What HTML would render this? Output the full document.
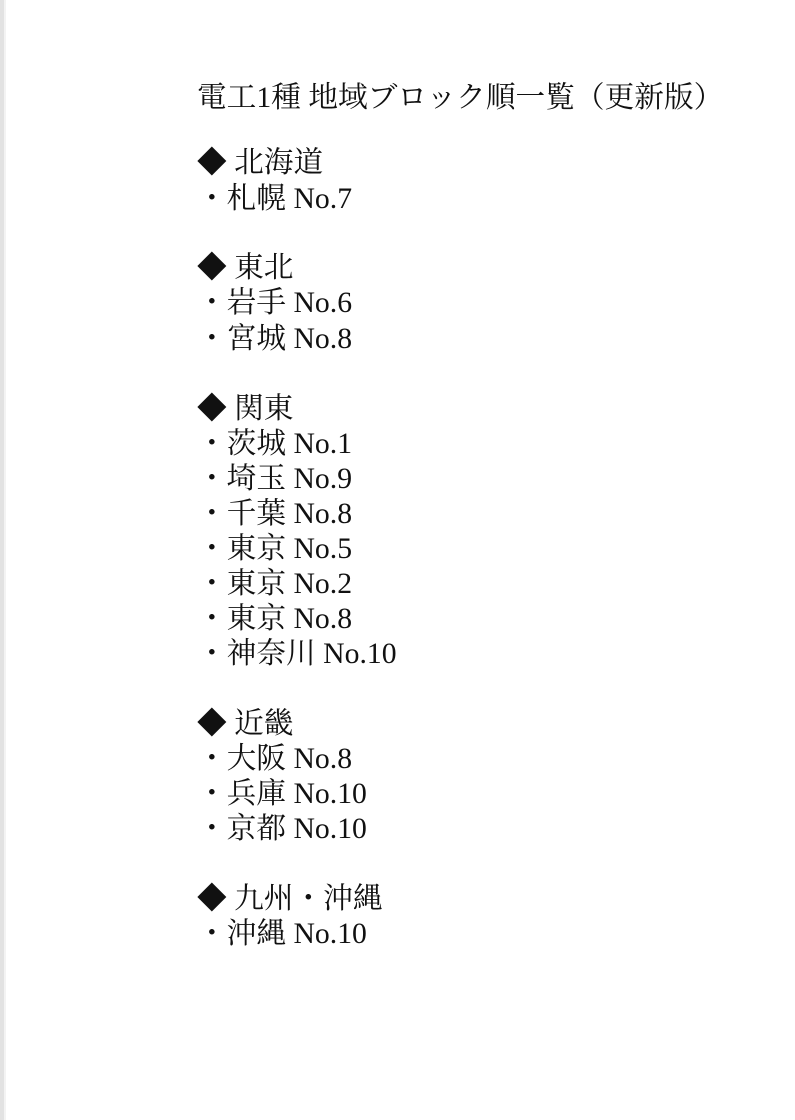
<!DOCTYPE html>
<html><head><meta charset="utf-8"><style>
html,body{margin:0;padding:0;background:#fff;width:795px;height:1120px;overflow:hidden;position:relative}
.edge{position:absolute;left:0;top:0;width:4px;height:1120px;background:#e2e2e2}
.edge2{position:absolute;left:4px;top:0;width:2px;height:1120px;background:#f3f3f3}
.l{position:absolute;left:197px;font-family:"Liberation Serif","Noto Serif CJK SC","Noto Serif CJK JP",serif;font-size:29.7px;line-height:36px;color:#111;white-space:pre}
</style></head><body>
<div class="edge"></div><div class="edge2"></div>
<div class="l" style="top:80px">電工1種 地域ブロック順一覧（更新版）</div>
<div class="l" style="top:145px">◆ 北海道</div>
<div class="l" style="top:181px">・札幌 No.7</div>
<div class="l" style="top:250px">◆ 東北</div>
<div class="l" style="top:285px">・岩手 No.6</div>
<div class="l" style="top:321px">・宮城 No.8</div>
<div class="l" style="top:391px">◆ 関東</div>
<div class="l" style="top:426px">・茨城 No.1</div>
<div class="l" style="top:461px">・埼玉 No.9</div>
<div class="l" style="top:496px">・千葉 No.8</div>
<div class="l" style="top:531px">・東京 No.5</div>
<div class="l" style="top:566px">・東京 No.2</div>
<div class="l" style="top:601px">・東京 No.8</div>
<div class="l" style="top:636px">・神奈川 No.10</div>
<div class="l" style="top:706px">◆ 近畿</div>
<div class="l" style="top:741px">・大阪 No.8</div>
<div class="l" style="top:776px">・兵庫 No.10</div>
<div class="l" style="top:811px">・京都 No.10</div>
<div class="l" style="top:881px">◆ 九州・沖縄</div>
<div class="l" style="top:916px">・沖縄 No.10</div>
</body></html>
